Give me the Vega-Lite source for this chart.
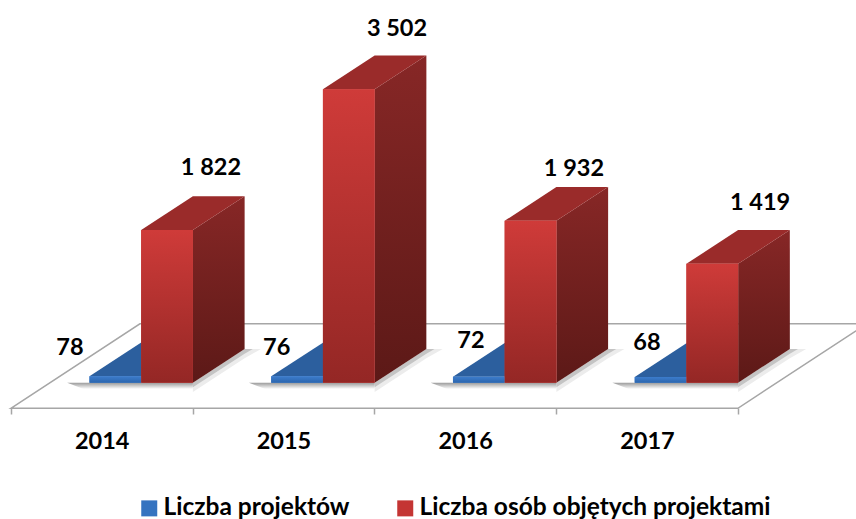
{
"$schema":"https://vega.github.io/schema/vega-lite/v6.json",
"width":856,"height":519,"padding":0,
"autosize":{"type":"fit","contains":"padding"},
"background":"white",
"config":{"view":{"stroke":null},"font":"Lato"},
"data":{"values":[
{"rok":2014,"seria":"Liczba projektów","wartosc":78},
{"rok":2015,"seria":"Liczba projektów","wartosc":76},
{"rok":2016,"seria":"Liczba projektów","wartosc":72},
{"rok":2017,"seria":"Liczba projektów","wartosc":68},
{"rok":2014,"seria":"Liczba osób objętych projektami","wartosc":1822},
{"rok":2015,"seria":"Liczba osób objętych projektami","wartosc":3502},
{"rok":2016,"seria":"Liczba osób objętych projektami","wartosc":1932},
{"rok":2017,"seria":"Liczba osób objętych projektami","wartosc":1419}
]},
"transform":[
{"calculate":"datum.seria=='Liczba projektów'?0:1","as":"s"},
{"calculate":"datum.rok-0.0675+datum.s*0.2845","as":"x0"},
{"calculate":"datum.x0+0.2845","as":"x1"},
{"calculate":"datum.x1+0.2845","as":"xb"},
{"calculate":"datum.xb+0.09","as":"xe"},
{"calculate":"datum.wartosc+402","as":"vb"}
],
"encoding":{
"x":{"type":"quantitative","scale":{"domain":[2013.4402,2018.15],"nice":false,"zero":false},
 "axis":{"title":null,"orient":"bottom","offset":-111,"domain":false,"grid":false,
  "values":[2013.5,2014,2014.5,2015,2015.5,2016,2016.5,2017,2017.5],
  "labelExpr":"datum.value%1==0?''+datum.value:''",
  "tickColor":"#a6a6a6","tickWidth":1.5,"tickSize":6,
  "tickOpacity":{"condition":{"test":"datum.value%1==0","value":0},"value":1},
  "labelFont":"Lato","labelFontWeight":"bold","labelFontSize":23.5,"labelColor":"black",
  "labelBaseline":"middle","labelPadding":27,"labelOverlap":false,"labelBound":false,"labelFlush":false}},
"y":{"type":"quantitative","stack":null,"scale":{"domain":[-1626.5,4567],"nice":false,"zero":false},"axis":null}
},
"layer":[
{"transform":[
 {"aggregate":[{"op":"min","field":"rok","as":"a"},{"op":"max","field":"rok","as":"b"}]},
 {"calculate":"datum.a-0.5","as":"p0"},{"calculate":"datum.p0+0.71","as":"p1"},
 {"calculate":"datum.b+0.5","as":"p2"},{"calculate":"datum.p2+0.71","as":"p3"},
 {"fold":["p0","p1","p2","p3"],"as":["k","px"]},
 {"calculate":"datum.k=='p3'?703:-305","as":"lo"},
 {"calculate":"datum.k=='p0'?-305:703","as":"hi"}],
 "mark":{"type":"area","orient":"vertical","clip":true,"fill":"white","stroke":"#a6a6a6","strokeWidth":1.5},
 "encoding":{"x":{"field":"px"},"y":{"field":"hi"},"y2":{"field":"lo"}}},
{"transform":[{"filter":"datum.s==1"},
 {"fold":["x1","xb","xe"],"as":["k","px"]},
 {"calculate":"datum.k=='x1'?0:402","as":"hi"},
 {"calculate":"datum.k=='x1'?-110:datum.k=='xb'?292:402","as":"lo"}],
 "mark":{"type":"area","orient":"vertical","fill":"#ececec"},
 "encoding":{"x":{"field":"px"},"y":{"field":"hi"},"y2":{"field":"lo"},"detail":{"field":"rok"}}},
{"transform":[{"filter":"datum.s==1"},
 {"calculate":"datum.xb+0.045","as":"xm"},
 {"fold":["x1","xb","xm"],"as":["k","px"]},
 {"calculate":"datum.k=='x1'?0:402","as":"hi"},
 {"calculate":"datum.k=='x1'?-55:datum.k=='xb'?347:402","as":"lo"}],
 "mark":{"type":"area","orient":"vertical","fill":"#c4c4c4"},
 "encoding":{"x":{"field":"px"},"y":{"field":"hi"},"y2":{"field":"lo"},"detail":{"field":"rok"}}},
{"transform":[{"filter":"datum.s==1"},
 {"calculate":"datum.rok-0.19","as":"l"},{"calculate":"datum.rok-0.1","as":"m"},
 {"fold":["l","m","x1"],"as":["k","px"]},
 {"calculate":"datum.k=='l'?0:-75","as":"lo"},
 {"calculate":"0","as":"hi"}],
 "mark":{"type":"area","orient":"vertical","fill":{"x1":0,"y1":0,"x2":0,"y2":1,"gradient":"linear","stops":[{"offset":0,"color":"#9a9a9a"},{"offset":1,"color":"#ffffff"}]}},
 "encoding":{"x":{"field":"px"},"y":{"field":"hi"},"y2":{"field":"lo"},"detail":{"field":"rok"}}},
{"transform":[{"filter":"datum.s==0"},
 {"fold":["x0","x1","xb"],"as":["k","px"]},
 {"calculate":"datum.k=='xb'?datum.vb:datum.wartosc","as":"lo"},
 {"calculate":"datum.k=='x0'?datum.wartosc:datum.vb","as":"hi"}],
 "mark":{"type":"area","orient":"vertical","fill":"#2c5f9e"},
 "encoding":{"x":{"field":"px"},"y":{"field":"hi"},"y2":{"field":"lo"},"detail":{"field":"rok"}}},
{"transform":[{"filter":"datum.s==1"},
 {"fold":["x1","xb"],"as":["k","px"]},
 {"calculate":"datum.k=='x1'?datum.wartosc:datum.vb","as":"hi"},
 {"calculate":"datum.k=='x1'?0:402","as":"lo"}],
 "mark":{"type":"area","orient":"vertical","fill":{"x1":0,"y1":0,"x2":0,"y2":1,"gradient":"linear","stops":[{"offset":0,"color":"#872726"},{"offset":1,"color":"#5c1917"}]}},
 "encoding":{"x":{"field":"px"},"y":{"field":"hi"},"y2":{"field":"lo"},"detail":{"field":"rok"}}},
{"transform":[{"filter":"datum.s==1"},
 {"fold":["x0","x1","xb"],"as":["k","px"]},
 {"calculate":"datum.k=='xb'?datum.vb:datum.wartosc","as":"lo"},
 {"calculate":"datum.k=='x0'?datum.wartosc:datum.vb","as":"hi"}],
 "mark":{"type":"area","orient":"vertical","fill":"#9a2b2a"},
 "encoding":{"x":{"field":"px"},"y":{"field":"hi"},"y2":{"field":"lo"},"detail":{"field":"rok"}}},
{"mark":{"type":"rect"},
 "encoding":{"x":{"field":"x0"},"x2":{"field":"x1"},"y":{"field":"wartosc"},"y2":{"datum":0},
  "color":{"field":"seria","type":"nominal",
   "scale":{"domain":["Liczba projektów","Liczba osób objętych projektami"],"range":["#3573c0","#c43533"]},
   "legend":{"title":null,"orient":"none","legendX":137,"legendY":496,"direction":"horizontal","columns":2,
    "symbolType":"square","symbolSize":256,"symbolStrokeWidth":0,"symbolOpacity":1,"labelOffset":2,"columnPadding":43,
    "labelFont":"Lato","labelFontWeight":"bold","labelFontSize":24.5,"labelColor":"black","labelLimit":400,"padding":0}}}},
{"transform":[{"filter":"datum.s==0"}],
 "mark":{"type":"rect","fill":{"x1":0,"y1":0,"x2":0,"y2":1,"gradient":"linear","stops":[{"offset":0,"color":"#3c7ccc"},{"offset":1,"color":"#2c66ae"}]}},
 "encoding":{"x":{"field":"x0"},"x2":{"field":"x1"},"y":{"field":"wartosc"},"y2":{"datum":0}}},
{"transform":[{"filter":"datum.s==1"}],
 "mark":{"type":"rect","fill":{"x1":0,"y1":0,"x2":0,"y2":1,"gradient":"linear","stops":[{"offset":0,"color":"#cf3b39"},{"offset":1,"color":"#942725"}]}},
 "encoding":{"x":{"field":"x0"},"x2":{"field":"x1"},"y":{"field":"wartosc"},"y2":{"datum":0}}},
{"transform":[
 {"calculate":"replace(format(datum.wartosc,','),',',' ')","as":"etykieta"},
 {"calculate":"datum.rok+(datum.s==0?[-0.1747,-0.0374,0.0316,0][datum.rok-2014]:[0.601,0.6245,0.598,0.622][datum.rok-2014])","as":"lx"},
 {"calculate":"datum.wartosc+(datum.s==0?[336,338,426,406][datum.rok-2014]:[740,719,618,725][datum.rok-2014])","as":"ly"}],
 "mark":{"type":"text","font":"Lato","fontWeight":"bold","fontSize":23.5,"color":"black","baseline":"middle","align":"center"},
 "encoding":{"x":{"field":"lx"},"y":{"field":"ly"},"text":{"field":"etykieta","type":"nominal"}}}
]
}
